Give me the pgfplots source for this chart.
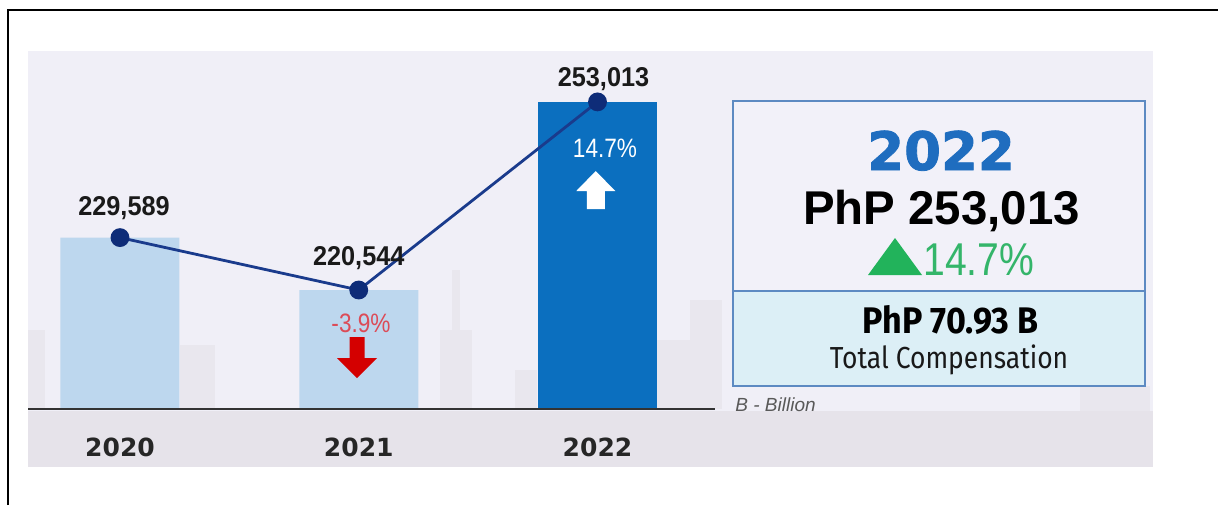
\documentclass[border=0pt]{standalone}
\usepackage{pgfplots}
\pgfplotsset{compat=1.18}
\usepackage{fontspec}
\setmainfont{Liberation Sans}
\newfontfamily\lib{Liberation Sans}
\newfontfamily\libnum[FakeStretch=0.93]{Liberation Sans}
\newfontfamily\libn[FakeStretch=0.85]{Liberation Sans}
\newfontfamily\fira[FakeStretch=0.87]{Fira Sans}
\newfontfamily\firaw[FakeStretch=0.92]{Fira Sans}
\newfontfamily\dvs{DejaVu Sans}
\newfontfamily\dvsheavy[BoldFeatures={FakeBold=1.6}]{DejaVu Sans}
\definecolor{bgc}{HTML}{F0EFF7}
\definecolor{skyc}{HTML}{E9E7EE}
\definecolor{bandc}{HTML}{E6E3EA}
\definecolor{barlight}{HTML}{BDD7EE}
\definecolor{bardark}{HTML}{0B6FBF}
\definecolor{linec}{HTML}{1A3B8C}
\definecolor{markc}{HTML}{0E2C78}
\definecolor{labc}{HTML}{1A1A1A}
\definecolor{boxc}{HTML}{5D8AC2}
\definecolor{boxtop}{HTML}{F2F1F9}
\definecolor{boxbot}{HTML}{DCEFF6}
\definecolor{yearblue}{HTML}{1F6DBF}
\definecolor{upgreen}{HTML}{22B35B}
\definecolor{txtgreen}{HTML}{34B56A}
\definecolor{downred}{HTML}{D40000}
\definecolor{txtred}{HTML}{DC4B57}
\begin{document}
\begin{tikzpicture}
\useasboundingbox (0,0) rectangle (609pt,-252.5pt);
\begin{scope}[x=0.5pt,y=-0.5pt]
  \fill[bgc] (28,51) rectangle (1153,467);
  % faint skyline
  \fill[skyc] (28,330) rectangle (45,409);
  \fill[skyc] (180,345) rectangle (215,409);
  \fill[skyc] (440,330) rectangle (472,409);
  \fill[skyc] (452,270) rectangle (460,330);
  \fill[skyc] (515,370) rectangle (537,409);
  \fill[skyc] (656,340) rectangle (690,409);
  \fill[skyc] (690,300) rectangle (722,409);
  \fill[skyc] (1080,386) rectangle (1150,467);
  \fill[bandc] (28,411) rectangle (1153,467);
  % frame
  \draw[line width=1pt, black] (8,505) -- (8,10) -- (1218,10);
\end{scope}
\begin{axis}[
  at={(14pt,-204.5pt)}, anchor=south west,
  scale only axis, width=343.5pt, height=179pt,
  xmin=-0.3853, xmax=2.4921, ymin=200000, ymax=261800,
  axis x line*=bottom, axis y line=none,
  x axis line style={-, draw=black!80, line width=1.1pt},
  axis on top=true,
  xtick={0,1,2}, xticklabels={2020,2021,2022},
  major tick length=0pt,
  xticklabel style={font=\dvs\bfseries\fontsize{12.5}{14}\selectfont, text=black!85, anchor=base, yshift=-23.5pt, inner sep=0pt},
  ytick=\empty,
]
\addplot[ybar, bar width=59.5pt, bar shift=0pt, fill=barlight, draw=none] coordinates {(0,229589) (1,220544)};
\addplot[ybar, bar width=59.5pt, bar shift=0pt, fill=bardark, draw=none] coordinates {(2,253013)};
\addplot[linec, line width=1.4pt, mark=*, mark size=4pt, mark options={fill=markc, draw=markc}] coordinates {(0,229589) (1,220544) (2,253013)};
\node[anchor=base, inner sep=0pt, text=labc, font=\libnum\bfseries\fontsize{13.6}{15}\selectfont] at ([xshift=2pt,yshift=11pt]axis cs:0,229589) {229,589};
\node[anchor=base, inner sep=0pt, text=labc, font=\libnum\bfseries\fontsize{13.6}{15}\selectfont] at ([xshift=0pt,yshift=12.5pt]axis cs:1,220544) {220,544};
\node[anchor=base, inner sep=0pt, text=labc, font=\libnum\bfseries\fontsize{13.6}{15}\selectfont] at ([xshift=3pt,yshift=7.5pt]axis cs:2,253013) {253,013};
\end{axis}
\begin{scope}[x=0.5pt,y=-0.5pt]
  % arrows and change labels in the bars
  \fill[white] (595.75,171) -- (615.25,191) -- (604.75,191) -- (604.75,209) -- (586.75,209) -- (586.75,191) -- (576.25,191) -- cycle;
  \node[anchor=base, inner sep=0pt, text=white, font=\libn\fontsize{13.3}{15}\selectfont] at (605,157) {14.7\%};
  \fill[downred] (349.5,337) -- (364.5,337) -- (364.5,358) -- (377,358) -- (357,378) -- (337,358) -- (349.5,358) -- cycle;
  \node[anchor=base, inner sep=0pt, text=txtred, font=\libn\fontsize{13.3}{15}\selectfont] at (361,332) {-3.9\%};
  % B - Billion
  \node[anchor=base west, inner sep=0pt, text=black!65, font=\lib\itshape\fontsize{9.5}{11}\selectfont] at (735,411) {B - Billion};
  % summary box
  \fill[boxtop] (733,101) rectangle (1145,291);
  \fill[boxbot] (733,291) rectangle (1145,386);
  \draw[boxc, line width=1pt] (733,101) rectangle (1145,386);
  \draw[boxc, line width=1pt] (733,291) -- (1145,291);
  \node[anchor=base, inner sep=0pt, text=yearblue, font=\dvsheavy\bfseries\fontsize{26.5}{30}\selectfont] at (941,170) {2022};
  \node[anchor=base, inner sep=0pt, text=black, font=\lib\bfseries\fontsize{23.7}{27}\selectfont] at (941.5,224) {PhP 253,013};
  \fill[upgreen] (868,275) -- (922,275) -- (895,238) -- cycle;
  \node[anchor=base west, inner sep=0pt, text=txtgreen, font=\libn\fontsize{23}{26}\selectfont] at (923,275) {14.7\%};
  \node[anchor=base, inner sep=0pt, text=black, font=\firaw\bfseries\fontsize{18.5}{21}\selectfont] at (950.5,333) {PhP 70.93 B};
  \node[anchor=base, inner sep=0pt, text=black!90, font=\fira\fontsize{15.2}{18}\selectfont] at (949,368) {Total Compensation};
\end{scope}
\end{tikzpicture}
\end{document}
